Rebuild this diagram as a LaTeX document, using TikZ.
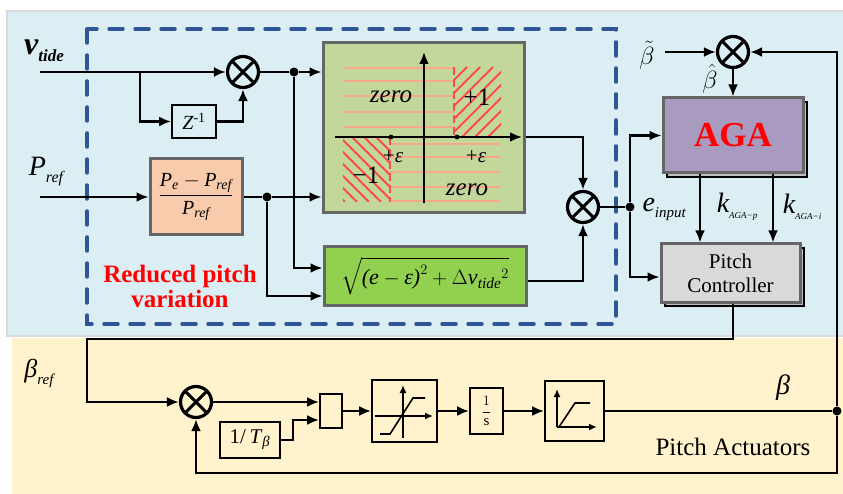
\documentclass[tikz,border=0pt]{standalone}
\usepackage{fontspec}
\usepackage{amsmath}
\setmainfont{Liberation Serif}
\usetikzlibrary{arrows.meta,shadows}

\definecolor{topbg}{HTML}{DBEEF4}
\definecolor{botbg}{HTML}{FFF2CC}
\definecolor{dashblue}{HTML}{2F5597}
\definecolor{plotgreen}{HTML}{C4D79B}
\definecolor{sqrtgreen}{HTML}{92D050}
\definecolor{peach}{HTML}{F8CBAD}
\definecolor{agapurple}{HTML}{A99BC0}
\definecolor{ctrlgray}{HTML}{D9D9D9}
\definecolor{hatchred}{HTML}{FF4B4B}
\definecolor{salmon}{HTML}{F9A88A}

\newcommand\fsz[1]{\fontsize{#1}{#1}\selectfont}

\tikzset{
    wire/.style={line width=2.8pt},
    conn/.style={wire, -{Latex[length=12pt,width=10pt]}},
    mult/.style={circle, draw, line width=3.2pt, minimum size=31pt, inner sep=0pt,
        path picture={\draw[line width=3pt]
            (path picture bounding box.north west) -- (path picture bounding box.south east)
            (path picture bounding box.north east) -- (path picture bounding box.south west);}},
    junc/.style={circle, fill, inner sep=0pt, minimum size=9pt},
    thinbox/.style={draw, line width=1.8pt, inner sep=0pt},
    bigbox/.style={draw=black!60, line width=3pt, inner sep=0pt},
    shadowed/.style={copy shadow={shadow xshift=4pt, shadow yshift=-4pt, draw=black, fill=black!25, line width=2pt}},
    axis/.style={line width=1.6pt, -{Latex[length=8pt,width=7pt]}},
    hatch/.style={draw=hatchred, line width=1.8pt},
    redline/.style={draw=hatchred, line width=2.4pt, dash pattern=on 8pt off 4pt},
    grid/.style={draw=salmon, line width=1.3pt}
}

\begin{document}
\begin{tikzpicture}[x=1pt, y=-1pt]
    \useasboundingbox (0,0) rectangle (843,494);

    % Panels
    \fill[topbg] (7,11) rectangle (843,336);
    \draw[black!15, line width=2pt] (843,11) -- (7,11) -- (7,336) -- (843,336);
    \fill[botbg] (12,338) rectangle (843,494);
    \draw[dashblue, line width=3.5pt, line cap=round, dash pattern=on 14pt off 12pt] (87,29) rectangle (616,324);

    % Blocks
    % -- reduced pitch variation
    \node[thinbox, minimum width=44pt, minimum height=33pt] (zinv) at (194,121.5) {\fsz{20}\textit{Z}\textsuperscript{-1}};
    \node[bigbox, fill=peach, minimum width=92pt, minimum height=76pt] (frac) at (196,197)
        {\fsz{20}$\dfrac{\textit{P}_{\textit{e}}-\textit{P}_{\textit{ref}}}{\textit{P}_{\textit{ref}}}$};
    \node[bigbox, fill=plotgreen, minimum width=201pt, minimum height=170pt] (plot) at (423.5,128) {};
    \node[bigbox, fill=sqrtgreen, minimum width=202pt, minimum height=59pt] (sqrt) at (425,276)
        {\fsz{22}$\sqrt{\textit{(e}-\textit{ε)}^{2}+\Delta{\textit{v}_{\textit{tide}}}^{2}}$};
    \node[mult] (mV) at (243,72) {};
    \node[mult] (mE) at (583,207) {};

    % -- AGA and controller
    \node[bigbox, shadowed, fill=agapurple, minimum width=140pt, minimum height=75pt] (aga) at (733,135.5)
        {\fsz{35}\bfseries\color{red}AGA};
    \node[bigbox, shadowed, fill=ctrlgray, minimum width=139pt, minimum height=58pt, align=center,
        font=\fontsize{21}{24}\selectfont] (pc) at (730.5,273) {Pitch\\Controller};
    \node[mult] (mBeta) at (733,52) {};

    % -- pitch actuators
    \node[mult] (mB) at (196,402) {};
    \node[thinbox, minimum width=22pt, minimum height=34pt] (sumbox) at (331,411) {};
    \node[thinbox, minimum width=60pt, minimum height=36pt] (tb) at (250,440) {\fsz{21}1/\,\textit{T}\textsubscript{\textit{β}}};
    \node[thinbox, minimum width=65pt, minimum height=62pt] (sat) at (404.5,411) {};
    \node[thinbox, minimum width=33pt, minimum height=46pt] (intg) at (486.5,411) {\fsz{15}$\dfrac{1}{\mathrm{s}}$};
    \node[thinbox, minimum width=59pt, minimum height=60pt] (rate) at (574.5,411) {};

    % Plot inside
    \foreach \yy in {68,81,96,112,127} \draw[grid] (343,\yy) -- (454,\yy);
    \foreach \yy in {144,157,172,187,201} \draw[grid] (390,\yy) -- (500,\yy);
    \begin{scope}
        \clip (454,67) rectangle (501,137);
        \foreach \k in {0,...,9} \draw[hatch] (384+\k*13,137) -- ++(70,-70);
    \end{scope}
    \begin{scope}
        \clip (343,137) rectangle (390,202);
        \foreach \k in {0,...,9} \draw[hatch] (280+\k*12,137) -- ++(65,65);
    \end{scope}
    \draw[redline] (454,67) -- (454,137);
    \draw[redline] (390,137) -- (390,202);
    \draw[conn] (424,203) -- (424,52);
    \draw[conn] (335,137) -- (522,137);
    \fill (391,137) circle (2.4pt);
    \fill (457,137) circle (2.4pt);
    \node[font=\fsz{25}\itshape] (zeroA) at (391,97) {zero};
    \node[font=\fsz{25}] (plusone) at (477,97) {+1};
    \node[font=\fsz{21}] (epsA) at (393,157) {+\textit{ε}};
    \node[font=\fsz{21}] (epsB) at (476,157) {+\textit{ε}};
    \node[font=\fsz{25}] (minusone) at (366,175) {−1};
    \node[font=\fsz{25}\itshape] (zeroB) at (467,190) {zero};

    % Saturation and rate limit inside
    \draw[axis] (403,438) -- (403,385);
    \draw[axis] (375,416) -- (433,416);
    \draw[line width=1.6pt] (380,434) -- (390,434) -- (413,398) -- (425,398);
    \draw[axis] (557,427) -- (557,389);
    \draw[axis] (557,427) -- (597,427);
    \draw[line width=1.6pt] (559,427) -- (575,403) -- (590,403);

    % Labels
    \node (lvtide) at (44,51) {{\fsz{32}\bfseries\itshape v}\raisebox{-7pt}{\fsz{17}\bfseries\itshape tide}};
    \node (lpref) at (46,172) {{\fsz{28}\itshape P}\raisebox{-7pt}{\fsz{16}\itshape ref}};
    \node (lbref) at (39,373) {{\fsz{26}\itshape β}\raisebox{-7pt}{\fsz{15}\itshape ref}};
    \node[inner sep=0pt] (lbtilde) at (647,55) {\fsz{26}$\tilde{\beta}$};
    \node[inner sep=0pt] (lbhat) at (710,79) {\fsz{24}$\hat{\beta}$};
    \node[anchor=west] (leinput) at (639,210) {{\fsz{28}\itshape e}\raisebox{-6pt}{\fsz{15}\itshape input}};
    \node (lkp) at (737,207) {{\fsz{28}\itshape k}\raisebox{-6pt}{\fsz{9}\itshape AGA−p}};
    \node (lki) at (802,207) {{\fsz{28}\itshape k}\raisebox{-6pt}{\fsz{9}\itshape AGA−i}};
    \node (lbeta) at (783,388) {\fsz{28}\itshape β};
    \node[font=\fsz{25}] (lact) at (733,447) {Pitch Actuators};
    \node[font=\fontsize{25}{25}\selectfont\bfseries, text=red, align=center] (lreduced) at (180,286) {Reduced pitch\\variation};

    % Junctions and free ends
    \node[junc] (dV) at (294,72) {};
    \node[junc] (dP) at (267,197) {};
    \node[junc] (dE) at (630,207) {};
    \node[junc] (dB) at (837,411) {};
    \coordinate (vin) at (40,72);
    \coordinate (vbr) at (140,72);
    \coordinate (pin) at (40,197);
    \coordinate (btin) at (665,52);
    \coordinate (corner) at (87,339);
    \coordinate (fb) at (837,473);

    % Connectors
    % -- top part
    \draw[conn] (vin) -- (mV);
    \draw[conn] (vbr) |- (zinv);
    \draw[conn] (zinv) -| (mV);
    \draw[wire] (mV) -- (dV);
    \draw[conn] (dV) -- (dV -| plot.west);
    \draw[conn] (pin) -- (frac);
    \draw[wire] (frac) -- (dP);
    \draw[conn] (dP) -- (dP -| plot.west);
    \draw[conn] (dV) |- ([yshift=8pt]sqrt.west);
    \draw[conn] (dP) |- ([yshift=-20pt]sqrt.west);
    \draw[conn] ([yshift=-9pt]plot.east) -| (mE);
    \draw[conn] ([yshift=-5pt]sqrt.east) -| (mE);
    \draw[wire] (mE) -- (dE);
    \draw[conn] (dE) |- (aga);
    \draw[conn] (dE) |- ([yshift=-4pt]pc.west);
    \draw[conn] (btin) -- (mBeta);
    \draw[conn] (mBeta) -- (aga);
    \draw[conn] ([xshift=-33pt]aga.south) -- ([xshift=-33pt]aga.south |- pc.north);
    \draw[conn] ([xshift=40pt]aga.south) -- ([xshift=40pt]aga.south |- pc.north);

    % -- bottom part
    \draw[conn] ([xshift=2.5pt]pc.south) |- (corner) |- (mB);
    \draw[conn] (mB) -- ([yshift=9pt]sumbox.west);
    \draw[conn] (tb.east) -- ++(12,0) |- ([yshift=-9pt]sumbox.west);
    \draw[conn] (sumbox) -- (sat);
    \draw[conn] (sat) -- (intg);
    \draw[conn] (intg) -- (rate);
    \draw[wire] (rate) -- (dB);
    \draw[conn] (dB) |- (mBeta);
    \draw[conn] (dB) -- (fb) -| (mB);
\end{tikzpicture}
\end{document}
